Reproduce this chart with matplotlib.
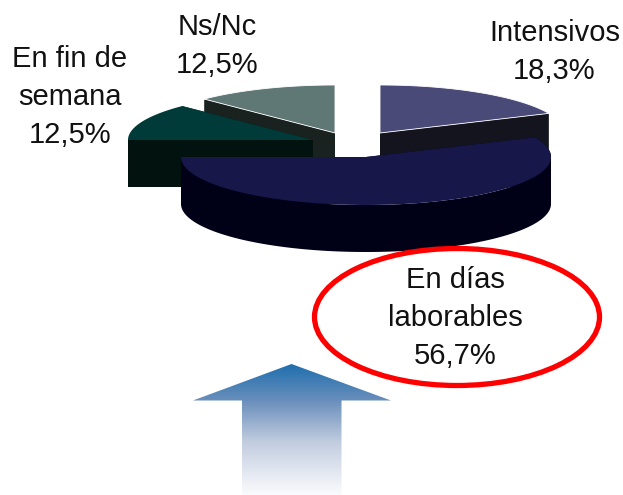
import numpy as np
import matplotlib
matplotlib.use('Agg')
import matplotlib.pyplot as plt
from matplotlib.patches import Polygon, Ellipse
from matplotlib.colors import LinearSegmentedColormap

labels = ['Intensivos', 'En días\nlaborables', 'En fin de\nsemana', 'Ns/Nc']
values = [18.3, 56.7, 12.5, 12.5]
# the printed shares do not add up to exactly 100, the slices are scaled to the sum
top_colors = ['#4a4a78', '#17174a', '#003b3a', '#5f7775']
side_colors = ['#14141e', '#000016', '#01120f', '#1a2220']
edge_colors = ['white', 'none', 'none', 'white']
centers = [(380, 133), (366, 157), (313, 140), (335, 133)]
label_pos = [(554.5, 52), (455, 318), (70, 97), (217, 46)]

plt.rcParams['font.family'] = ['Liberation Sans', 'DejaVu Sans']

rx = 185
ry = 48
depth = 47

fig = plt.figure(figsize=(6.23, 4.95), dpi=100)
ax = fig.add_axes([0, 0, 1, 1])
ax.set_xlim(0, 623)
ax.set_ylim(495, 0)
ax.axis('off')

# slice angles, clockwise from 12 o'clock
ang = [90]
for v in values:
    ang.append(ang[-1] - v / sum(values) * 360)


def arc(c, a, b):
    t = np.radians(np.linspace(a, b, 100))
    return np.column_stack([c[0] + rx * np.cos(t), c[1] - ry * np.sin(t)])


def draw_slice(i):
    c = centers[i]
    a, b = ang[i], ang[i + 1]
    p = arc(c, a, b)
    # cut faces
    for e in (p[0], p[-1]):
        ax.add_patch(Polygon([c, e, (e[0], e[1] + depth), (c[0], c[1] + depth)],
                             fc=side_colors[i], ec='none'))
    # outer wall of the big slice, both sides of the widest point
    if i == 1:
        for front in (arc(c, b, 0), arc(c, 0, a)):
            ax.add_patch(Polygon(np.vstack([front, front[::-1] + [0, depth]]), fc=side_colors[i], ec='none'))
    ax.add_patch(Polygon(np.vstack([[c], p]), fc=top_colors[i], ec=edge_colors[i], lw=0.6))


for i in [3, 0, 2, 1]:
    draw_slice(i)

# blue arrow with the fade to white
cmap = LinearSegmentedColormap.from_list('fade', [(0, '#1f6fae'), (0.28, '#6a8fbc'), (0.6, '#c3cde0'), (1, '#fbfbfd')])
im = ax.imshow(np.linspace(0, 1, 200).reshape(-1, 1), extent=(193, 391, 495, 364),
               cmap=cmap, aspect='auto', zorder=3)
arrow = Polygon([(291.5, 364), (391, 400.5), (341.5, 400.5), (341.5, 495), (242, 495), (242, 400.5), (193, 400.5)],
                fc='none', ec='none', zorder=3)
ax.add_patch(arrow)
im.set_clip_path(arrow)
ax.set_xlim(0, 623)
ax.set_ylim(495, 0)

# red ring round the main slice
ax.add_patch(Ellipse((457, 317), 285, 137, fc='white', ec='#ff0000', lw=3.8, zorder=4))

for name, v, pos in zip(labels, values, label_pos):
    ax.text(pos[0], pos[1], name + '\n' + f'{v:.1f}'.replace('.', ',') + '%', ha='center', va='center',
            fontsize=21, color='#111111', linespacing=1.47, zorder=5)

plt.savefig('out.png', dpi=100)
